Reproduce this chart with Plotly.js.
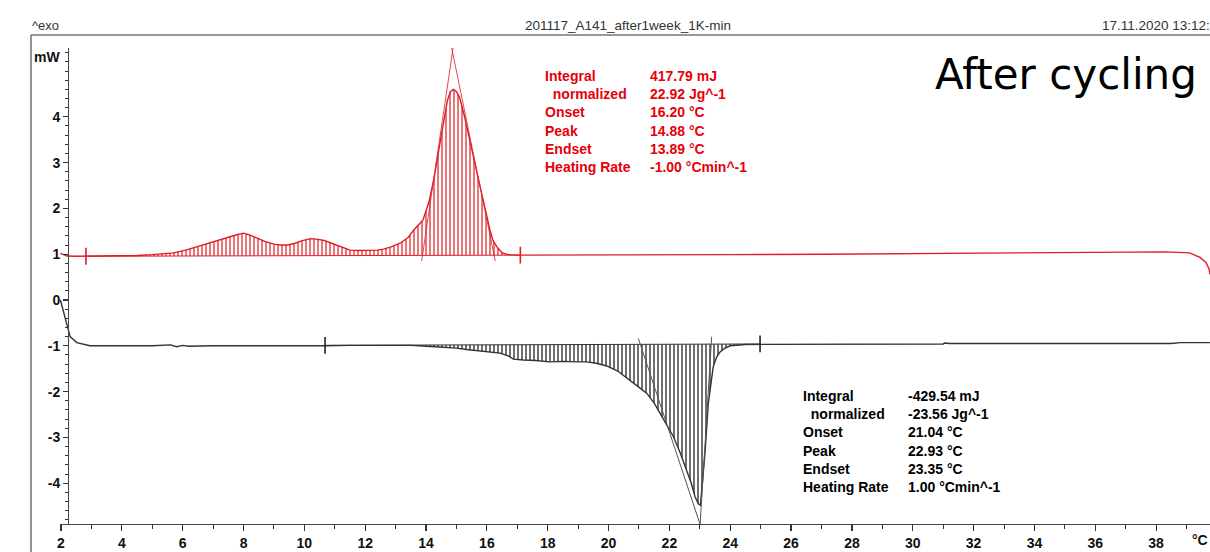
<!DOCTYPE html>
<html>
<head>
<meta charset="utf-8">
<script src="https://cdn.plot.ly/plotly-3.0.1.min.js"></script>
<style>html,body{margin:0;padding:0;background:#fff;overflow:hidden}#chart{width:1210px;height:552px}</style>
</head>
<body>
<div id="chart"></div>
<script>
// ---- data (temperature in °C, heat flow in mW) ----
const redX = [1.98, 2.2, 2.5, 3.0, 3.5, 4.0, 4.5, 5.0, 5.4, 5.7, 6.1, 6.5, 6.8, 7.1, 7.45, 7.75, 8.0, 8.2, 8.45, 8.7, 9.0, 9.2, 9.45, 9.7, 9.9, 10.2, 10.4, 10.65, 10.85, 11.1, 11.3, 11.5, 11.8, 12.1, 12.4, 12.6, 12.85, 13.15, 13.4, 13.6, 13.9, 14.1, 14.25, 14.4, 14.56, 14.7, 14.8, 14.9, 15.0, 15.1, 15.25, 15.45, 15.6, 15.78, 15.95, 16.1, 16.2, 16.33, 16.5, 16.7, 17.0, 18.0, 20.0, 24.0, 27.1, 30.0, 34.2, 36.0, 38.3, 39.1, 39.44, 39.64, 39.74, 39.77];
const redY = [1.02, 0.96, 0.955, 0.955, 0.96, 0.96, 0.97, 0.99, 1.01, 1.03, 1.09, 1.17, 1.24, 1.30, 1.37, 1.42, 1.46, 1.42, 1.35, 1.28, 1.22, 1.20, 1.20, 1.24, 1.29, 1.34, 1.33, 1.30, 1.25, 1.19, 1.13, 1.09, 1.08, 1.08, 1.09, 1.11, 1.16, 1.24, 1.36, 1.53, 1.75, 2.15, 2.62, 3.20, 3.86, 4.35, 4.55, 4.60, 4.55, 4.43, 4.05, 3.49, 3.00, 2.47, 1.95, 1.53, 1.30, 1.16, 1.03, 0.99, 0.98, 0.98, 0.99, 0.99, 1.00, 1.01, 1.03, 1.03, 1.05, 1.03, 0.93, 0.82, 0.68, 0.56];

const blackX = [1.98, 2.19, 2.30, 2.52, 2.95, 3.5, 4.0, 5.0, 5.6, 5.8, 6.0, 6.2, 7.0, 8.0, 9.0, 9.3, 9.5, 10.0, 10.68, 11.5, 12.5, 13.14, 13.5, 14.0, 14.5, 15.0, 15.33, 15.8, 16.43, 16.7, 16.87, 17.2, 17.6, 18.07, 18.5, 19.0, 19.28, 19.6, 19.94, 20.3, 20.6, 20.95, 21.26, 21.5, 21.69, 21.9, 22.13, 22.35, 22.57, 22.72, 22.84, 22.95, 23.02, 23.1, 23.17, 23.28, 23.36, 23.44, 23.55, 23.66, 23.8, 24.0, 24.5, 25.0, 26.0, 28.0, 31.0, 31.05, 31.2, 32.0, 34.0, 36.0, 38.5, 38.8, 39.77];
const blackY = [0.0, -0.50, -0.80, -0.93, -1.00, -1.00, -1.00, -1.00, -0.98, -1.02, -0.99, -1.01, -1.00, -1.00, -1.00, -1.01, -1.00, -1.00, -1.00, -0.99, -0.99, -0.98, -0.99, -1.01, -1.03, -1.05, -1.08, -1.11, -1.16, -1.22, -1.29, -1.31, -1.32, -1.35, -1.34, -1.35, -1.35, -1.38, -1.44, -1.55, -1.71, -1.88, -2.04, -2.25, -2.47, -2.70, -2.98, -3.33, -3.71, -4.00, -4.29, -4.45, -4.48, -3.90, -3.34, -2.25, -1.80, -1.46, -1.25, -1.14, -1.06, -1.00, -0.97, -0.97, -0.97, -0.97, -0.96, -0.94, -0.95, -0.95, -0.95, -0.95, -0.95, -0.93, -0.93];

// integration limits and baselines
const redLimitX = [2.82, 17.1];
const redBaseY = [0.955, 0.98];
const blackLimitX = [10.68, 24.98];
const blackBaseY = [-0.99, -0.96];

// tangent construction lines
const redTanLeftX = [13.856, 14.888], redTanLeftY = [0.85, 5.50];
const redTanRightX = [14.845, 16.276], redTanRightY = [5.50, 0.85];
const blackTanLeftX = [20.98, 23.06], blackTanLeftY = [-0.84, -5.0];
const blackTanRightX = [23.39, 23.0], blackTanRightY = [-0.80, -5.0];

// evaluation texts
const redLabels = ['Integral', '\u00a0\u00a0normalized', 'Onset', 'Peak', 'Endset', 'Heating Rate'];
const redValues = ['417.79 mJ', '22.92 Jg^-1', '16.20 °C', '14.88 °C', '13.89 °C', '-1.00 °Cmin^-1'];
const blackLabels = ['Integral', '\u00a0\u00a0normalized', 'Onset', 'Peak', 'Endset', 'Heating Rate'];
const blackValues = ['-429.54 mJ', '-23.56 Jg^-1', '21.04 °C', '22.93 °C', '23.35 °C', '1.00 °Cmin^-1'];

const yTicks = [-4, -3, -2, -1, 0, 1, 2, 3, 4];
const yTickText = ['-4', '-3', '-2', '-1', '0', '1', '2', '3', '4'];
const xTicks = [2, 4, 6, 8, 10, 12, 14, 16, 18, 20, 22, 24, 26, 28, 30, 32, 34, 36, 38];

const headerLeft = '^exo';
const headerTitle = '201117_A141_after1week_1K-min';
const headerRight = '17.11.2020 13:12:';
const bigLabel = 'After cycling';
const xUnit = '°C';
const yUnit = 'mW';

// ---- helpers ----
const RED = 'rgb(222,30,36)';
const RED_TEXT = 'rgb(230,0,10)';
const BOLD = '"Liberation Sans", Arial, sans-serif';
const L = 60, W = 1150, T = 48, H = 476;
const px = v => (v - L) / W;
const py = v => (T + H - v) / H;

function subset(xs, ys, lo, hi) {
  const ox = [], oy = [];
  xs.forEach((x, i) => { if (x >= lo && x <= hi) { ox.push(x); oy.push(ys[i]); } });
  return [ox, oy];
}
const [redFillX, redFillY] = subset(redX, redY, redLimitX[0], redLimitX[1]);
const [blackFillX, blackFillY] = subset(blackX, blackY, blackLimitX[0], blackLimitX[1]);

const hatch = c => ({shape: '|', size: 4, solidity: 0.32, fgcolor: c, fgopacity: 1, bgcolor: 'rgba(0,0,0,0)', fillmode: 'overlay'});

const traces = [
  // red baseline + hatched area
  {x: redLimitX, y: redBaseY, mode: 'lines', line: {color: RED, width: 1}, hoverinfo: 'skip'},
  {x: redFillX, y: redFillY, mode: 'lines', line: {width: 0, color: RED}, fill: 'tonexty',
   fillcolor: 'rgba(0,0,0,0)', fillpattern: hatch('rgb(225,40,45)'), hoverinfo: 'skip'},
  // black baseline + hatched area
  {x: blackLimitX, y: blackBaseY, mode: 'lines', line: {color: '#333', width: 1}, hoverinfo: 'skip'},
  {x: blackFillX, y: blackFillY, mode: 'lines', line: {width: 0, color: '#222'}, fill: 'tonexty',
   fillcolor: 'rgba(0,0,0,0)', fillpattern: hatch('rgb(30,30,30)'), hoverinfo: 'skip'},
  // curves
  {x: redX, y: redY, mode: 'lines', line: {color: RED, width: 1.4}},
  {x: blackX, y: blackY, mode: 'lines', line: {color: '#333', width: 1.4}},
  // tangents
  {x: redTanLeftX, y: redTanLeftY, mode: 'lines', line: {color: 'rgba(222,40,50,0.85)', width: 1}},
  {x: redTanRightX, y: redTanRightY, mode: 'lines', line: {color: 'rgba(222,40,50,0.85)', width: 1}},
  {x: blackTanLeftX, y: blackTanLeftY, mode: 'lines', line: {color: '#555', width: 1}},
  {x: blackTanRightX, y: blackTanRightY, mode: 'lines', line: {color: '#555', width: 1}},
  // limit markers
  {x: redLimitX, y: redBaseY, mode: 'markers', marker: {symbol: 'line-ns-open', size: 12, color: RED, line: {color: RED, width: 1.6}}},
  {x: blackLimitX, y: blackBaseY, mode: 'markers', marker: {symbol: 'line-ns-open', size: 12, color: '#222', line: {color: '#222', width: 1.6}}}
];

const tickFont = {family: BOLD, size: 14, color: '#111', weight: 'bold'};

const annotations = [
  {text: headerLeft, x: px(30), y: py(26), xanchor: 'left', yanchor: 'middle', font: {family: BOLD, size: 13, color: '#333'}},
  {text: headerTitle, x: px(628), y: py(26), xanchor: 'center', yanchor: 'middle', font: {family: BOLD, size: 13.5, color: '#333'}},
  {text: headerRight, x: px(1100), y: py(26), xanchor: 'left', yanchor: 'middle', font: {family: BOLD, size: 13.5, color: '#333'}},
  {text: yUnit, x: px(62), y: py(57), xanchor: 'right', yanchor: 'middle', font: tickFont},
  {text: xUnit, x: px(1210), y: py(540), xanchor: 'right', yanchor: 'middle', font: tickFont},
  {text: bigLabel, x: px(933), y: py(74), xanchor: 'left', yanchor: 'middle', font: {family: '"DejaVu Sans", Verdana, sans-serif', size: 42, color: '#000'}},
  {text: redLabels.join('<br>'), x: px(543), y: py(121), xanchor: 'left', yanchor: 'middle', align: 'left', font: {family: BOLD, size: 14, color: RED_TEXT, weight: 'bold'}},
  {text: redValues.join('<br>'), x: px(648), y: py(121), xanchor: 'left', yanchor: 'middle', align: 'left', font: {family: BOLD, size: 14, color: RED_TEXT, weight: 'bold'}},
  {text: blackLabels.join('<br>'), x: px(801), y: py(441.5), xanchor: 'left', yanchor: 'middle', align: 'left', font: {family: BOLD, size: 14, color: '#000', weight: 'bold'}},
  {text: blackValues.join('<br>'), x: px(906), y: py(441.5), xanchor: 'left', yanchor: 'middle', align: 'left', font: {family: BOLD, size: 14, color: '#000', weight: 'bold'}}
].map(a => Object.assign({xref: 'paper', yref: 'paper', showarrow: false}, a));

const shapes = [
  {type: 'line', xref: 'paper', yref: 'paper', x0: px(31), x1: px(1212), y0: py(35), y1: py(35), line: {color: '#777', width: 1.6}},
  {type: 'line', xref: 'paper', yref: 'paper', x0: px(31), x1: px(31), y0: py(35), y1: py(560), line: {color: '#777', width: 1.6}}
];

const layout = {
  width: 1210, height: 552,
  margin: {l: L, r: 0, t: T, b: 552 - T - H, pad: 0},
  paper_bgcolor: '#fff', plot_bgcolor: '#fff',
  showlegend: false,
  xaxis: {
    range: [2 - 1 / 30.42, 2 + 1149 / 30.42],
    tickvals: xTicks, ticktext: xTicks.map(String),
    ticks: 'outside', ticklen: 6, tickwidth: 1.2, tickcolor: '#333',
    minor: {tickmode: 'linear', tick0: 1, dtick: 2, ticks: 'outside', ticklen: 4, tickcolor: '#333', tickwidth: 1},
    showline: true, linecolor: '#444', linewidth: 1.2,
    showgrid: false, zeroline: false, tickfont: tickFont, fixedrange: true
  },
  yaxis: {
    range: [(300 - 524) / 45.8, (300 - 48) / 45.8],
    anchor: 'free', position: px(68),
    tickvals: yTicks, ticktext: yTickText,
    ticks: 'outside', ticklen: 5, tickwidth: 1.2, tickcolor: '#333',
    minor: {tickmode: 'linear', tick0: 0, dtick: 0.2, ticks: 'outside', ticklen: 3, tickcolor: '#333', tickwidth: 1},
    showline: true, linecolor: '#444', linewidth: 1.2,
    showgrid: false, zeroline: false, tickfont: tickFont, fixedrange: true
  },
  annotations, shapes
};

Plotly.newPlot('chart', traces, layout, {staticPlot: true, displayModeBar: false});
</script>
</body>
</html>
